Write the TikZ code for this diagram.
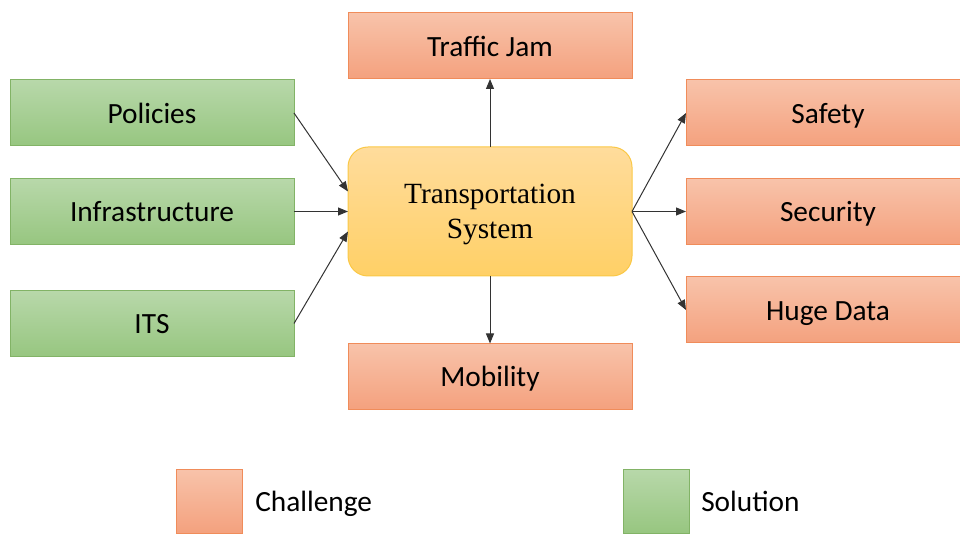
\documentclass[tikz,border=0pt]{standalone}
\usepackage{fontspec}
\setmainfont{Carlito}
\newfontfamily\timesfont{Liberation Serif}
\usetikzlibrary{calc,arrows.meta}

\definecolor{solTop}{RGB}{184,216,170}
\definecolor{solBot}{RGB}{151,198,128}
\definecolor{solLine}{RGB}{130,179,102}
\definecolor{chaTop}{RGB}{248,195,170}
\definecolor{chaBot}{RGB}{244,161,126}
\definecolor{chaLine}{RGB}{240,140,90}
\definecolor{sysTop}{RGB}{255,220,156}
\definecolor{sysBot}{RGB}{255,208,102}
\definecolor{sysLine}{RGB}{250,200,70}

\begin{document}
\begin{tikzpicture}[x=0.75pt,y=0.75pt,yscale=-1,xscale=1,
  solbox/.style={draw=solLine,top color=solTop,bottom color=solBot,line width=0.75pt,
    minimum width=213pt,minimum height=49.5pt,inner sep=0pt,outer sep=0pt,
    text height=15.4pt,text depth=0pt,font=\fontsize{22}{26}\selectfont},
  chabox/.style={draw=chaLine,top color=chaTop,bottom color=chaBot,line width=0.75pt,
    minimum width=213pt,minimum height=49.5pt,inner sep=0pt,outer sep=0pt,
    text height=15.4pt,text depth=0pt,font=\fontsize{22}{26}\selectfont},
  sysbox/.style={draw=sysLine,top color=sysTop,bottom color=sysBot,line width=0.75pt,rounded corners=15pt,
    minimum width=213pt,minimum height=96.75pt,inner sep=0pt,outer sep=0pt,align=center,
    text depth=0pt,font=\timesfont\fontsize{22}{26}\selectfont},
  keybox/.style={minimum width=49.5pt,minimum height=48pt,inner sep=0pt,outer sep=0pt},
  keytext/.style={anchor=west,inner sep=0pt,text height=15.4pt,text depth=0pt,font=\fontsize{22}{26}\selectfont},
  link/.style={draw=black!80,line width=0.75pt,-{Triangle[length=7.5pt,width=6pt]}}]
\useasboundingbox (0,0) rectangle (960,534);

% Centre
\node [sysbox] (sys) at (490,211.5) {Transportation\\System};

% Solutions
\node [solbox] (policies) at (152,113) {Policies};
\node [solbox] (infra) at (152,211.5) {Infrastructure};
\node [solbox] (its) at (152,323.5) {ITS};

% Challenges
\node [chabox] (jam) at (490,46) {Traffic Jam};
\node [chabox] (mobility) at (490,376.5) {Mobility};
\node [chabox] (safety) at (828,113) {Safety};
\node [chabox] (security) at (828,211.5) {Security};
\node [chabox] (hugedata) at (828,310) {Huge Data};

% Arrows
\draw [link] (policies.east) -- ($(sys.west)+(0,-20)$);
\draw [link] (infra.east) -- (sys.west);
\draw [link] (its.east) -- ($(sys.west)+(0,20)$);
\draw [link] (sys.north) -- (jam.south);
\draw [link] (sys.south) -- (mobility.north);
\draw [link] (sys.east) -- (safety.west);
\draw [link] (sys.east) -- (security.west);
\draw [link] (sys.east) -- (hugedata.west);

% Legend
\node [chabox,keybox] (keycha) at (209,501) {};
\node [keytext] (keychatext) at (255,501) {Challenge};
\node [solbox,keybox] (keysol) at (656.5,501) {};
\node [keytext] (keysoltext) at (701,501) {Solution};

\end{tikzpicture}
\end{document}
